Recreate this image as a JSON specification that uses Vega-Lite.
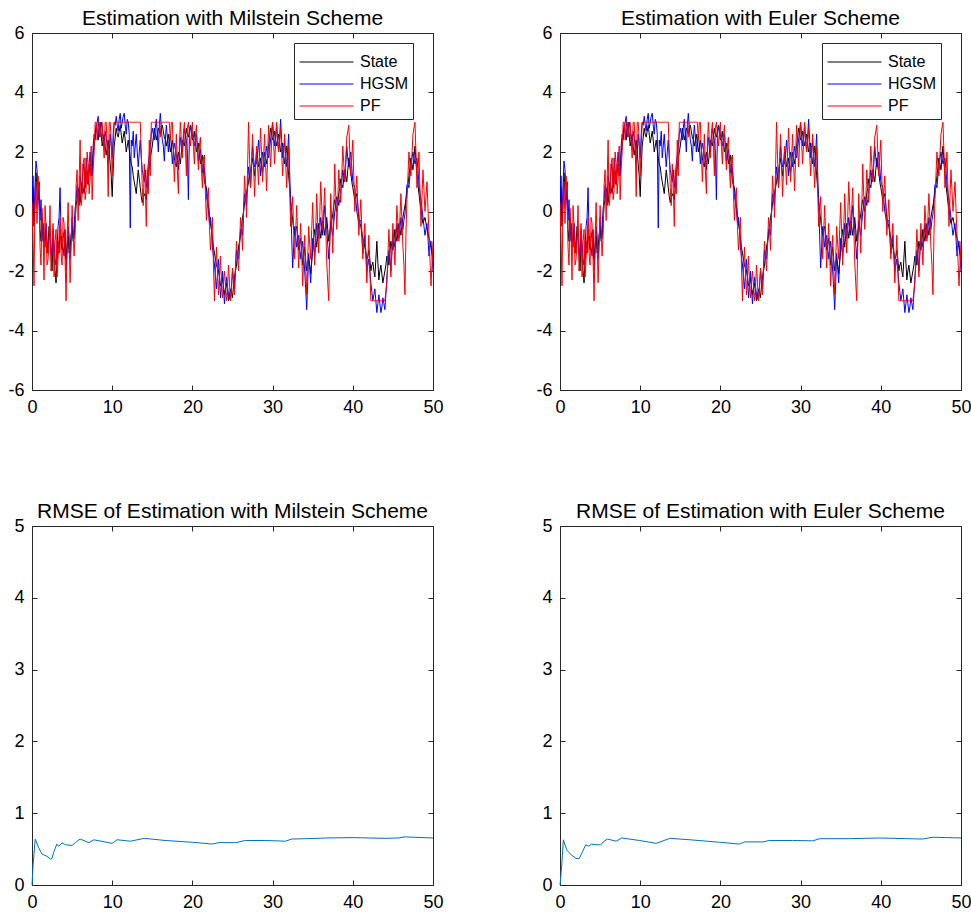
{
"$schema":"https://vega.github.io/schema/vega-lite/v6.json",
"padding":{"left":7,"top":7,"right":0,"bottom":5},
"background":"white",
"datasets":{
"est":[
{"x":0,"State":0.2,"HGSM":0.1,"PF":0.3},{"x":0.25,"State":-0.5,"HGSM":-0.3,"PF":-2.5},{"x":0.5,"State":1.3,"HGSM":1.7,"PF":1.0},{"x":0.75,"State":0.4,"HGSM":0.8,"PF":1.2},
{"x":1,"State":-0.6,"HGSM":-0.3,"PF":-1.2},{"x":1.25,"State":-0.2,"HGSM":-1.0,"PF":0.1},{"x":1.5,"State":-1.2,"HGSM":-0.8,"PF":-2.3},{"x":1.75,"State":-0.6,"HGSM":-0.4,"PF":-0.5},
{"x":2,"State":-1.1,"HGSM":-1.4,"PF":-1.6},{"x":2.25,"State":-0.8,"HGSM":-0.6,"PF":0.2},{"x":2.5,"State":-2.0,"HGSM":-1.5,"PF":-1.2},{"x":2.75,"State":-1.4,"HGSM":-1.0,"PF":-2.2},
{"x":3,"State":-2.4,"HGSM":-1.8,"PF":-0.6},{"x":3.25,"State":-1.0,"HGSM":-0.5,"PF":-1.6},{"x":3.5,"State":-0.6,"HGSM":0.8,"PF":-0.2},{"x":3.75,"State":-1.3,"HGSM":-1.0,"PF":-1.8},
{"x":4,"State":-0.7,"HGSM":-1.5,"PF":-0.4},{"x":4.25,"State":-1.6,"HGSM":-2.0,"PF":-3.0},{"x":4.5,"State":-0.8,"HGSM":-0.5,"PF":0.3},{"x":4.75,"State":-1.2,"HGSM":-1.6,"PF":-2.4},
{"x":5,"State":-0.5,"HGSM":-0.2,"PF":0.2},{"x":5.25,"State":-0.9,"HGSM":-0.6,"PF":-1.5},{"x":5.5,"State":0.2,"HGSM":0.4,"PF":0.9},{"x":5.75,"State":0.8,"HGSM":0.5,"PF":-0.3},
{"x":6,"State":0.3,"HGSM":1.2,"PF":2.4},{"x":6.25,"State":1.0,"HGSM":0.6,"PF":0.5},{"x":6.5,"State":0.6,"HGSM":1.4,"PF":1.8},{"x":6.75,"State":1.3,"HGSM":1.8,"PF":0.7},
{"x":7,"State":0.9,"HGSM":1.0,"PF":1.6},{"x":7.25,"State":1.6,"HGSM":2.0,"PF":1.1},{"x":7.5,"State":1.4,"HGSM":1.2,"PF":0.4},{"x":7.75,"State":2.3,"HGSM":2.6,"PF":2.0},
{"x":8,"State":2.9,"HGSM":2.8,"PF":3.0},{"x":8.25,"State":2.4,"HGSM":3.2,"PF":3.0},{"x":8.5,"State":3.0,"HGSM":2.6,"PF":2.5},{"x":8.75,"State":2.2,"HGSM":2.8,"PF":3.0},
{"x":9,"State":2.6,"HGSM":2.2,"PF":1.8},{"x":9.25,"State":1.9,"HGSM":2.5,"PF":3.0},{"x":9.5,"State":2.4,"HGSM":1.6,"PF":0.5},{"x":9.75,"State":1.6,"HGSM":2.6,"PF":3.0},
{"x":10,"State":0.5,"HGSM":1.8,"PF":1.2},{"x":10.25,"State":2.2,"HGSM":3.0,"PF":3.0},{"x":10.5,"State":2.8,"HGSM":3.2,"PF":3.0},{"x":10.75,"State":2.5,"HGSM":2.7,"PF":3.0},
{"x":11,"State":2.9,"HGSM":3.3,"PF":3.0},{"x":11.25,"State":2.3,"HGSM":3.0,"PF":3.0},{"x":11.5,"State":2.7,"HGSM":3.3,"PF":3.0},{"x":11.75,"State":2.0,"HGSM":2.6,"PF":3.0},
{"x":12,"State":2.4,"HGSM":3.0,"PF":3.0},{"x":12.25,"State":1.8,"HGSM":-0.55,"PF":3.0},{"x":12.5,"State":1.5,"HGSM":2.2,"PF":3.0},{"x":12.75,"State":1.0,"HGSM":1.8,"PF":3.0},
{"x":13,"State":0.6,"HGSM":2.6,"PF":3.0},{"x":13.25,"State":1.4,"HGSM":1.5,"PF":3.0},{"x":13.5,"State":0.8,"HGSM":2.4,"PF":3.0},{"x":13.75,"State":0.3,"HGSM":1.4,"PF":0.8},
{"x":14,"State":0.6,"HGSM":1.0,"PF":1.6},{"x":14.25,"State":0.4,"HGSM":0.8,"PF":-0.5},{"x":14.5,"State":1.2,"HGSM":1.6,"PF":0.6},{"x":14.75,"State":1.8,"HGSM":2.2,"PF":1.2},
{"x":15,"State":2.2,"HGSM":2.8,"PF":3.0},{"x":15.25,"State":2.8,"HGSM":2.4,"PF":3.0},{"x":15.5,"State":2.4,"HGSM":3.1,"PF":3.0},{"x":15.75,"State":2.8,"HGSM":2.0,"PF":3.0},
{"x":16,"State":2.6,"HGSM":3.3,"PF":2.5},{"x":16.25,"State":2.9,"HGSM":2.4,"PF":3.0},{"x":16.5,"State":2.5,"HGSM":1.7,"PF":3.0},{"x":16.75,"State":2.2,"HGSM":2.9,"PF":3.0},
{"x":17,"State":2.6,"HGSM":2.0,"PF":3.0},{"x":17.25,"State":2.0,"HGSM":2.6,"PF":2.4},{"x":17.5,"State":2.4,"HGSM":1.6,"PF":3.0},{"x":17.75,"State":1.8,"HGSM":2.3,"PF":1.0},
{"x":18,"State":1.5,"HGSM":1.9,"PF":2.6},{"x":18.25,"State":2.0,"HGSM":1.4,"PF":0.6},{"x":18.5,"State":1.6,"HGSM":2.5,"PF":3.0},{"x":18.75,"State":2.4,"HGSM":2.0,"PF":1.8},
{"x":19,"State":2.2,"HGSM":2.8,"PF":3.0},{"x":19.25,"State":2.8,"HGSM":2.4,"PF":1.2},{"x":19.5,"State":2.5,"HGSM":0.4,"PF":3.0},{"x":19.75,"State":2.9,"HGSM":2.9,"PF":2.2},
{"x":20,"State":2.4,"HGSM":2.6,"PF":3.0},{"x":20.25,"State":2.7,"HGSM":2.2,"PF":1.6},{"x":20.5,"State":2.0,"HGSM":2.6,"PF":2.9},{"x":20.75,"State":2.3,"HGSM":1.7,"PF":1.4},
{"x":21,"State":1.6,"HGSM":2.1,"PF":2.5},{"x":21.25,"State":1.9,"HGSM":1.3,"PF":0.8},{"x":21.5,"State":1.0,"HGSM":1.4,"PF":1.9},{"x":21.75,"State":0.8,"HGSM":0.5,"PF":-0.3},
{"x":22,"State":0.2,"HGSM":0.0,"PF":0.8},{"x":22.25,"State":-0.4,"HGSM":-0.2,"PF":-1.3},{"x":22.5,"State":-0.9,"HGSM":-1.2,"PF":-0.2},{"x":22.75,"State":-1.4,"HGSM":-1.8,"PF":-3.0},
{"x":23,"State":-1.8,"HGSM":-2.6,"PF":-1.2},{"x":23.25,"State":-2.0,"HGSM":-1.6,"PF":-2.8},{"x":23.5,"State":-2.5,"HGSM":-2.9,"PF":-1.5},{"x":23.75,"State":-2.2,"HGSM":-2.0,"PF":-2.9},
{"x":24,"State":-2.8,"HGSM":-3.1,"PF":-2.0},{"x":24.25,"State":-2.4,"HGSM":-2.2,"PF":-3.0},{"x":24.5,"State":-3.0,"HGSM":-2.8,"PF":-1.8},{"x":24.75,"State":-2.6,"HGSM":-3.0,"PF":-3.0},
{"x":25,"State":-2.9,"HGSM":-2.0,"PF":-1.9},{"x":25.25,"State":-2.2,"HGSM":-2.6,"PF":-2.8},{"x":25.5,"State":-1.8,"HGSM":-1.3,"PF":-1.0},{"x":25.75,"State":-1.2,"HGSM":-1.6,"PF":-2.0},
{"x":26,"State":-0.8,"HGSM":-0.6,"PF":-0.2},{"x":26.25,"State":-0.2,"HGSM":-0.8,"PF":-1.3},{"x":26.5,"State":0.3,"HGSM":0.6,"PF":1.2},{"x":26.75,"State":0.6,"HGSM":0.2,"PF":-0.2},
{"x":27,"State":1.0,"HGSM":1.5,"PF":3.0},{"x":27.25,"State":1.4,"HGSM":0.8,"PF":0.8},{"x":27.5,"State":1.8,"HGSM":2.2,"PF":2.6},{"x":27.75,"State":1.2,"HGSM":1.5,"PF":0.5},
{"x":28,"State":2.0,"HGSM":1.6,"PF":2.2},{"x":28.25,"State":1.5,"HGSM":2.4,"PF":0.9},{"x":28.5,"State":1.8,"HGSM":1.2,"PF":2.8},{"x":28.75,"State":1.3,"HGSM":2.0,"PF":1.0},
{"x":29,"State":2.0,"HGSM":1.5,"PF":2.6},{"x":29.25,"State":1.6,"HGSM":2.2,"PF":0.7},{"x":29.5,"State":2.2,"HGSM":1.8,"PF":2.9},{"x":29.75,"State":2.8,"HGSM":2.4,"PF":1.5},
{"x":30,"State":2.4,"HGSM":3.0,"PF":3.0},{"x":30.25,"State":2.7,"HGSM":2.2,"PF":1.6},{"x":30.5,"State":2.2,"HGSM":2.9,"PF":3.0},{"x":30.75,"State":2.6,"HGSM":2.0,"PF":2.0},
{"x":31,"State":2.0,"HGSM":3.1,"PF":2.8},{"x":31.25,"State":2.3,"HGSM":1.8,"PF":1.2},{"x":31.5,"State":1.6,"HGSM":2.4,"PF":2.6},{"x":31.75,"State":2.2,"HGSM":1.5,"PF":0.8},
{"x":32,"State":1.2,"HGSM":2.6,"PF":2.2},{"x":32.25,"State":0.4,"HGSM":0.2,"PF":-0.5},{"x":32.5,"State":-0.3,"HGSM":-1.9,"PF":0.5},{"x":32.75,"State":-0.8,"HGSM":-0.5,"PF":-1.6},
{"x":33,"State":-0.5,"HGSM":-1.2,"PF":0.2},{"x":33.25,"State":-1.3,"HGSM":-0.8,"PF":-1.9},{"x":33.5,"State":-0.9,"HGSM":-1.6,"PF":-0.4},{"x":33.75,"State":-1.8,"HGSM":-1.0,"PF":-2.5},
{"x":34,"State":-1.2,"HGSM":-2.0,"PF":-0.8},{"x":34.25,"State":-2.0,"HGSM":-3.3,"PF":-2.8},{"x":34.5,"State":-1.6,"HGSM":-1.4,"PF":-0.5},{"x":34.75,"State":-2.1,"HGSM":-2.4,"PF":-1.6},
{"x":35,"State":-1.3,"HGSM":-0.9,"PF":0.3},{"x":35.25,"State":-0.6,"HGSM":-1.5,"PF":-1.8},{"x":35.5,"State":-1.2,"HGSM":-0.4,"PF":0.6},{"x":35.75,"State":-0.4,"HGSM":-0.9,"PF":-1.4},
{"x":36,"State":-0.9,"HGSM":-0.2,"PF":1.0},{"x":36.25,"State":-0.3,"HGSM":-0.8,"PF":-0.6},{"x":36.5,"State":-0.8,"HGSM":0.2,"PF":0.8},{"x":36.75,"State":-0.2,"HGSM":-0.6,"PF":-1.7},
{"x":37,"State":-1.0,"HGSM":-1.6,"PF":-3.0},{"x":37.25,"State":-0.5,"HGSM":-0.3,"PF":0.6},{"x":37.5,"State":-0.1,"HGSM":-0.8,"PF":-1.4},{"x":37.75,"State":0.4,"HGSM":0.0,"PF":1.6},
{"x":38,"State":0.0,"HGSM":0.5,"PF":-0.6},{"x":38.25,"State":0.6,"HGSM":0.2,"PF":1.4},{"x":38.5,"State":1.1,"HGSM":0.7,"PF":0.3},{"x":38.75,"State":0.8,"HGSM":1.4,"PF":2.2},
{"x":39,"State":1.4,"HGSM":1.0,"PF":1.0},{"x":39.25,"State":1.0,"HGSM":2.2,"PF":2.5},{"x":39.5,"State":1.8,"HGSM":1.5,"PF":2.9},{"x":39.75,"State":1.3,"HGSM":2.0,"PF":1.2},
{"x":40,"State":0.8,"HGSM":1.0,"PF":2.4},{"x":40.25,"State":0.4,"HGSM":0.8,"PF":0.0},{"x":40.5,"State":0.6,"HGSM":0.0,"PF":1.2},{"x":40.75,"State":-0.2,"HGSM":-0.4,"PF":-0.8},
{"x":41,"State":-0.5,"HGSM":-0.3,"PF":0.4},{"x":41.25,"State":-0.9,"HGSM":-1.4,"PF":-1.6},{"x":41.5,"State":-1.2,"HGSM":-0.8,"PF":-0.4},{"x":41.75,"State":-1.6,"HGSM":-2.0,"PF":-2.4},
{"x":42,"State":-1.3,"HGSM":-1.6,"PF":-0.8},{"x":42.25,"State":-2.0,"HGSM":-2.4,"PF":-3.0},{"x":42.5,"State":-1.7,"HGSM":-3.0,"PF":-3.0},{"x":42.75,"State":-2.2,"HGSM":-2.6,"PF":-3.0},
{"x":43,"State":-1.0,"HGSM":-3.4,"PF":-3.0},{"x":43.25,"State":-2.3,"HGSM":-2.8,"PF":-3.0},{"x":43.5,"State":-1.8,"HGSM":-3.4,"PF":-3.0},{"x":43.75,"State":-2.4,"HGSM":-2.9,"PF":-3.0},
{"x":44,"State":-2.0,"HGSM":-3.3,"PF":-3.0},{"x":44.25,"State":-1.5,"HGSM":-2.2,"PF":-2.4},{"x":44.5,"State":-1.8,"HGSM":-1.3,"PF":-0.6},{"x":44.75,"State":-1.0,"HGSM":-2.0,"PF":-2.2},
{"x":45,"State":-1.3,"HGSM":-0.8,"PF":-0.4},{"x":45.25,"State":-0.6,"HGSM":-1.2,"PF":-1.8},{"x":45.5,"State":-1.0,"HGSM":-0.4,"PF":0.2},{"x":45.75,"State":-0.4,"HGSM":-0.9,"PF":-1.0},
{"x":46,"State":-0.8,"HGSM":-0.2,"PF":0.6},{"x":46.25,"State":-0.2,"HGSM":-0.6,"PF":-1.2},{"x":46.5,"State":0.2,"HGSM":-0.1,"PF":-2.8},{"x":46.75,"State":0.6,"HGSM":0.9,"PF":0.4},
{"x":47,"State":1.2,"HGSM":0.8,"PF":2.0},{"x":47.25,"State":1.8,"HGSM":1.5,"PF":1.2},{"x":47.5,"State":1.4,"HGSM":2.0,"PF":2.6},{"x":47.75,"State":2.2,"HGSM":1.6,"PF":3.0},
{"x":48,"State":1.2,"HGSM":1.8,"PF":0.8},{"x":48.25,"State":0.6,"HGSM":0.9,"PF":2.0},{"x":48.5,"State":0.0,"HGSM":0.4,"PF":-0.5},{"x":48.75,"State":-0.4,"HGSM":-0.2,"PF":1.4},
{"x":49,"State":-0.2,"HGSM":-0.8,"PF":0.0},{"x":49.25,"State":-0.6,"HGSM":-0.4,"PF":1.0},{"x":49.5,"State":-0.9,"HGSM":-1.5,"PF":-0.8},{"x":49.75,"State":-1.2,"HGSM":-1.0,"PF":-2.5},
{"x":50,"State":-1.6,"HGSM":-2.0,"PF":-1.0},
{"x":0.125,"State":0.8,"HGSM":1.2,"PF":-0.8},{"x":0.375,"State":0.2,"HGSM":0.9,"PF":0.4},{"x":0.625,"State":0.6,"HGSM":1.4,"PF":-0.4},{"x":0.875,"State":1.0,"HGSM":0.2,"PF":0.6},
{"x":1.125,"State":-1.0,"HGSM":0.4,"PF":-1.8},{"x":1.375,"State":-0.5,"HGSM":-0.4,"PF":-0.6},{"x":1.625,"State":-0.9,"HGSM":-1.2,"PF":0.2},{"x":1.875,"State":-1.4,"HGSM":-1.0,"PF":-1.8},
{"x":2.125,"State":-0.5,"HGSM":-0.9,"PF":-1.0},{"x":2.375,"State":-1.5,"HGSM":-1.2,"PF":-2.0},{"x":2.625,"State":-1.0,"HGSM":-0.6,"PF":-0.4},{"x":2.875,"State":-2.0,"HGSM":-1.6,"PF":-1.0},
{"x":3.125,"State":-1.6,"HGSM":-1.2,"PF":-2.2},{"x":3.375,"State":-1.4,"HGSM":-0.2,"PF":-0.8},{"x":3.625,"State":-1.0,"HGSM":-0.8,"PF":-1.4},{"x":3.875,"State":-0.9,"HGSM":-1.2,"PF":-0.2},
{"x":4.125,"State":-1.2,"HGSM":-0.6,"PF":-1.6},{"x":4.375,"State":-1.1,"HGSM":-1.4,"PF":-1.0},{"x":4.625,"State":-1.4,"HGSM":-0.9,"PF":-0.9},{"x":4.875,"State":-0.8,"HGSM":-1.0,"PF":-1.2},
{"x":5.125,"State":-1.0,"HGSM":-0.9,"PF":-0.6},{"x":5.375,"State":-0.3,"HGSM":0.1,"PF":-0.8},{"x":5.625,"State":0.4,"HGSM":0.9,"PF":1.4},{"x":5.875,"State":0.5,"HGSM":0.2,"PF":1.0},
{"x":6.125,"State":0.7,"HGSM":0.9,"PF":0.2},{"x":6.375,"State":0.8,"HGSM":1.6,"PF":1.6},{"x":6.625,"State":1.0,"HGSM":0.8,"PF":0.4},{"x":6.875,"State":1.0,"HGSM":1.4,"PF":2.0},
{"x":7.125,"State":1.3,"HGSM":1.6,"PF":0.6},{"x":7.375,"State":1.2,"HGSM":1.5,"PF":2.2},{"x":7.625,"State":1.9,"HGSM":2.2,"PF":1.4},{"x":7.875,"State":2.6,"HGSM":2.4,"PF":3.0},
{"x":8.125,"State":2.7,"HGSM":3.0,"PF":2.4},{"x":8.375,"State":2.7,"HGSM":2.5,"PF":3.0},{"x":8.625,"State":2.6,"HGSM":3.0,"PF":3.0},{"x":8.875,"State":2.4,"HGSM":2.4,"PF":2.4},
{"x":9.125,"State":2.2,"HGSM":2.7,"PF":3.0},{"x":9.375,"State":2.1,"HGSM":2.2,"PF":2.2},{"x":9.625,"State":2.0,"HGSM":2.0,"PF":3.0},{"x":9.875,"State":1.2,"HGSM":2.2,"PF":2.4},
{"x":10.125,"State":1.4,"HGSM":2.6,"PF":2.2},{"x":10.375,"State":2.5,"HGSM":2.9,"PF":3.0},{"x":10.625,"State":2.6,"HGSM":2.9,"PF":3.0},{"x":10.875,"State":2.7,"HGSM":3.1,"PF":3.0},
{"x":11.125,"State":2.6,"HGSM":2.8,"PF":3.0},{"x":11.375,"State":2.5,"HGSM":3.2,"PF":3.0},{"x":11.625,"State":2.4,"HGSM":2.9,"PF":3.0},{"x":11.875,"State":2.2,"HGSM":3.1,"PF":3.0},
{"x":12.125,"State":2.1,"HGSM":2.6,"PF":3.0},{"x":12.375,"State":1.6,"HGSM":2.4,"PF":3.0},{"x":12.625,"State":1.2,"HGSM":2.7,"PF":3.0},{"x":12.875,"State":0.8,"HGSM":2.2,"PF":3.0},
{"x":13.125,"State":1.0,"HGSM":2.0,"PF":3.0},{"x":13.375,"State":1.1,"HGSM":2.0,"PF":3.0},{"x":13.625,"State":0.5,"HGSM":1.8,"PF":2.0},{"x":13.875,"State":0.5,"HGSM":1.2,"PF":0.2},
{"x":14.125,"State":0.5,"HGSM":1.4,"PF":0.8},{"x":14.375,"State":0.8,"HGSM":1.2,"PF":1.4},{"x":14.625,"State":1.5,"HGSM":1.9,"PF":2.4},{"x":14.875,"State":2.0,"HGSM":2.6,"PF":3.0},
{"x":15.125,"State":2.5,"HGSM":2.6,"PF":3.0},{"x":15.375,"State":2.6,"HGSM":2.8,"PF":3.0},{"x":15.625,"State":2.6,"HGSM":2.6,"PF":3.0},{"x":15.875,"State":2.7,"HGSM":2.9,"PF":3.0},
{"x":16.125,"State":2.8,"HGSM":2.8,"PF":3.0},{"x":16.375,"State":2.7,"HGSM":2.2,"PF":3.0},{"x":16.625,"State":2.4,"HGSM":2.4,"PF":3.0},{"x":16.875,"State":2.4,"HGSM":2.5,"PF":3.0},
{"x":17.125,"State":2.3,"HGSM":2.4,"PF":3.0},{"x":17.375,"State":2.2,"HGSM":2.2,"PF":3.0},{"x":17.625,"State":2.1,"HGSM":2.0,"PF":2.0},{"x":17.875,"State":1.6,"HGSM":2.1,"PF":1.8},
{"x":18.125,"State":1.8,"HGSM":1.7,"PF":1.4},{"x":18.375,"State":1.8,"HGSM":2.0,"PF":2.2},{"x":18.625,"State":2.0,"HGSM":2.2,"PF":2.4},{"x":18.875,"State":2.3,"HGSM":2.5,"PF":2.6},
{"x":19.125,"State":2.5,"HGSM":2.6,"PF":2.2},{"x":19.375,"State":2.6,"HGSM":2.0,"PF":2.8},{"x":19.625,"State":2.7,"HGSM":2.6,"PF":2.6},{"x":19.875,"State":2.6,"HGSM":2.8,"PF":2.6},
{"x":20.125,"State":2.5,"HGSM":2.4,"PF":2.2},{"x":20.375,"State":2.3,"HGSM":2.4,"PF":2.5},{"x":20.625,"State":2.2,"HGSM":2.2,"PF":2.0},{"x":20.875,"State":1.9,"HGSM":1.9,"PF":2.2},
{"x":21.125,"State":1.8,"HGSM":1.7,"PF":1.4},{"x":21.375,"State":1.4,"HGSM":1.6,"PF":1.8},{"x":21.625,"State":0.9,"HGSM":1.0,"PF":0.6},{"x":21.875,"State":0.5,"HGSM":0.3,"PF":0.4},
{"x":22.125,"State":-0.1,"HGSM":-0.4,"PF":-0.5},{"x":22.375,"State":-0.6,"HGSM":-0.6,"PF":-0.8},{"x":22.625,"State":-1.2,"HGSM":-1.5,"PF":-1.8},{"x":22.875,"State":-1.6,"HGSM":-2.2,"PF":-2.0},
{"x":23.125,"State":-1.9,"HGSM":-2.1,"PF":-2.0},{"x":23.375,"State":-2.2,"HGSM":-2.2,"PF":-2.2},{"x":23.625,"State":-2.4,"HGSM":-2.5,"PF":-2.4},{"x":23.875,"State":-2.5,"HGSM":-2.6,"PF":-2.4},
{"x":24.125,"State":-2.6,"HGSM":-2.6,"PF":-2.5},{"x":24.375,"State":-2.7,"HGSM":-2.5,"PF":-2.6},{"x":24.625,"State":-2.8,"HGSM":-2.9,"PF":-2.4},{"x":24.875,"State":-2.7,"HGSM":-2.5,"PF":-2.6},
{"x":25.125,"State":-2.5,"HGSM":-2.3,"PF":-2.3},{"x":25.375,"State":-2.0,"HGSM":-1.9,"PF":-1.8},{"x":25.625,"State":-1.5,"HGSM":-1.5,"PF":-1.5},{"x":25.875,"State":-1.0,"HGSM":-1.1,"PF":-1.2},
{"x":26.125,"State":-0.5,"HGSM":-0.7,"PF":-0.6},{"x":26.375,"State":0.0,"HGSM":-0.1,"PF":0.0},{"x":26.625,"State":0.4,"HGSM":0.4,"PF":0.6},{"x":26.875,"State":0.8,"HGSM":0.9,"PF":1.4},
{"x":27.125,"State":1.2,"HGSM":1.2,"PF":1.8},{"x":27.375,"State":1.6,"HGSM":1.5,"PF":1.7},{"x":27.625,"State":1.5,"HGSM":1.8,"PF":1.6},{"x":27.875,"State":1.6,"HGSM":1.6,"PF":1.4},
{"x":28.125,"State":1.8,"HGSM":2.0,"PF":1.5},{"x":28.375,"State":1.6,"HGSM":1.8,"PF":1.9},{"x":28.625,"State":1.5,"HGSM":1.6,"PF":1.9},{"x":28.875,"State":1.6,"HGSM":1.8,"PF":1.8},
{"x":29.125,"State":1.8,"HGSM":1.8,"PF":1.6},{"x":29.375,"State":1.9,"HGSM":2.0,"PF":1.8},{"x":29.625,"State":2.5,"HGSM":2.1,"PF":2.2},{"x":29.875,"State":2.6,"HGSM":2.7,"PF":2.3},
{"x":30.125,"State":2.5,"HGSM":2.6,"PF":2.3},{"x":30.375,"State":2.4,"HGSM":2.5,"PF":2.3},{"x":30.625,"State":2.4,"HGSM":2.4,"PF":2.5},{"x":30.875,"State":2.3,"HGSM":2.5,"PF":2.4},
{"x":31.125,"State":2.1,"HGSM":2.4,"PF":2.0},{"x":31.375,"State":1.9,"HGSM":2.1,"PF":1.9},{"x":31.625,"State":1.9,"HGSM":1.9,"PF":1.7},{"x":31.875,"State":1.7,"HGSM":2.0,"PF":1.5},
{"x":32.125,"State":0.8,"HGSM":1.4,"PF":0.8},{"x":32.375,"State":0.0,"HGSM":-0.8,"PF":0.0},{"x":32.625,"State":-0.6,"HGSM":-1.2,"PF":-0.6},{"x":32.875,"State":-0.6,"HGSM":-0.8,"PF":-0.7},
{"x":33.125,"State":-0.9,"HGSM":-1.0,"PF":-0.8},{"x":33.375,"State":-1.1,"HGSM":-1.2,"PF":-1.2},{"x":33.625,"State":-1.3,"HGSM":-1.3,"PF":-1.4},{"x":33.875,"State":-1.5,"HGSM":-1.5,"PF":-1.6},
{"x":34.125,"State":-1.6,"HGSM":-2.6,"PF":-1.8},{"x":34.375,"State":-1.8,"HGSM":-2.4,"PF":-1.6},{"x":34.625,"State":-1.8,"HGSM":-1.9,"PF":-1.1},{"x":34.875,"State":-1.7,"HGSM":-1.6,"PF":-0.6},
{"x":35.125,"State":-0.9,"HGSM":-1.2,"PF":-0.8},{"x":35.375,"State":-0.9,"HGSM":-1.0,"PF":-0.6},{"x":35.625,"State":-0.8,"HGSM":-0.6,"PF":-0.4},{"x":35.875,"State":-0.6,"HGSM":-0.6,"PF":-0.2},
{"x":36.125,"State":-0.6,"HGSM":-0.5,"PF":0.2},{"x":36.375,"State":-0.5,"HGSM":-0.3,"PF":0.1},{"x":36.625,"State":-0.5,"HGSM":-0.2,"PF":-0.4},{"x":36.875,"State":-0.6,"HGSM":-1.1,"PF":-2.4},
{"x":37.125,"State":-0.7,"HGSM":-1.0,"PF":-1.2},{"x":37.375,"State":-0.3,"HGSM":-0.6,"PF":-0.4},{"x":37.625,"State":0.2,"HGSM":-0.4,"PF":0.1},{"x":37.875,"State":0.2,"HGSM":0.2,"PF":0.5},
{"x":38.125,"State":0.3,"HGSM":0.4,"PF":0.4},{"x":38.375,"State":0.8,"HGSM":0.4,"PF":0.8},{"x":38.625,"State":0.9,"HGSM":1.0,"PF":1.2},{"x":38.875,"State":1.1,"HGSM":1.2,"PF":1.6},
{"x":39.125,"State":1.2,"HGSM":1.6,"PF":1.8},{"x":39.375,"State":1.4,"HGSM":1.8,"PF":2.7},{"x":39.625,"State":1.5,"HGSM":1.8,"PF":2.0},{"x":39.875,"State":1.0,"HGSM":1.5,"PF":1.8},
{"x":40.125,"State":0.6,"HGSM":0.9,"PF":1.2},{"x":40.375,"State":0.5,"HGSM":0.4,"PF":0.6},{"x":40.625,"State":0.2,"HGSM":-0.2,"PF":0.2},{"x":40.875,"State":-0.4,"HGSM":-0.3,"PF":-0.2},
{"x":41.125,"State":-0.7,"HGSM":-0.8,"PF":-0.6},{"x":41.375,"State":-1.0,"HGSM":-1.1,"PF":-1.0},{"x":41.625,"State":-1.4,"HGSM":-1.4,"PF":-1.4},{"x":41.875,"State":-1.5,"HGSM":-1.8,"PF":-1.6},
{"x":42.125,"State":-1.6,"HGSM":-2.0,"PF":-1.9},{"x":42.375,"State":-1.8,"HGSM":-2.7,"PF":-3.0},{"x":42.625,"State":-2.0,"HGSM":-2.8,"PF":-3.0},{"x":42.875,"State":-1.6,"HGSM":-3.0,"PF":-3.0},
{"x":43.125,"State":-1.7,"HGSM":-3.1,"PF":-3.0},{"x":43.375,"State":-2.0,"HGSM":-3.1,"PF":-3.0},{"x":43.625,"State":-2.1,"HGSM":-3.2,"PF":-3.0},{"x":43.875,"State":-2.2,"HGSM":-3.1,"PF":-3.0},
{"x":44.125,"State":-1.8,"HGSM":-2.8,"PF":-2.7},{"x":44.375,"State":-1.6,"HGSM":-1.8,"PF":-1.5},{"x":44.625,"State":-1.4,"HGSM":-1.6,"PF":-1.4},{"x":44.875,"State":-1.2,"HGSM":-1.4,"PF":-1.3},
{"x":45.125,"State":-1.0,"HGSM":-1.0,"PF":-1.1},{"x":45.375,"State":-0.8,"HGSM":-0.8,"PF":-0.8},{"x":45.625,"State":-0.7,"HGSM":-0.7,"PF":-0.4},{"x":45.875,"State":-0.6,"HGSM":-0.6,"PF":-0.2},
{"x":46.125,"State":-0.5,"HGSM":-0.4,"PF":-0.3},{"x":46.375,"State":0.0,"HGSM":-0.3,"PF":-1.8},{"x":46.625,"State":0.4,"HGSM":0.4,"PF":-0.8},{"x":46.875,"State":0.9,"HGSM":0.9,"PF":1.2},
{"x":47.125,"State":1.5,"HGSM":1.2,"PF":1.6},{"x":47.375,"State":1.6,"HGSM":1.8,"PF":1.9},{"x":47.625,"State":1.8,"HGSM":1.8,"PF":2.8},{"x":47.875,"State":1.7,"HGSM":1.7,"PF":2.0},
{"x":48.125,"State":0.9,"HGSM":1.4,"PF":1.4},{"x":48.375,"State":0.3,"HGSM":0.6,"PF":0.8},{"x":48.625,"State":-0.2,"HGSM":0.1,"PF":0.5},{"x":48.875,"State":-0.3,"HGSM":-0.5,"PF":0.7},
{"x":49.125,"State":-0.4,"HGSM":-0.6,"PF":0.5},{"x":49.375,"State":-0.7,"HGSM":-0.9,"PF":0.1},{"x":49.625,"State":-1.0,"HGSM":-1.2,"PF":-1.6},{"x":49.875,"State":-1.4,"HGSM":-1.5,"PF":-1.8}
],
"rmseM":[
{"x":0,"r":0.0},{"x":0.13,"r":0.27},{"x":0.4,"r":0.64},{"x":0.83,"r":0.52},{"x":1.25,"r":0.43},{"x":1.87,"r":0.4},{"x":2.3,"r":0.36},{"x":2.5,"r":0.37},{"x":2.7,"r":0.455},{"x":3.1,"r":0.57},{"x":3.3,"r":0.54},{"x":3.75,"r":0.585},{"x":4.2,"r":0.56},{"x":5.0,"r":0.55},{"x":5.4,"r":0.59},{"x":6.0,"r":0.64},{"x":7.1,"r":0.59},{"x":7.7,"r":0.63},{"x":10.0,"r":0.58},{"x":10.6,"r":0.63},{"x":12.3,"r":0.61},{"x":14.0,"r":0.65},{"x":16.6,"r":0.62},{"x":20.0,"r":0.595},{"x":22.5,"r":0.57},{"x":23.3,"r":0.59},{"x":25.4,"r":0.59},{"x":26.6,"r":0.62},{"x":29.1,"r":0.62},{"x":31.6,"r":0.61},{"x":32.4,"r":0.64},{"x":35.7,"r":0.65},{"x":36.6,"r":0.655},{"x":39.9,"r":0.66},{"x":44.1,"r":0.65},{"x":45.7,"r":0.655},{"x":46.5,"r":0.67},{"x":50,"r":0.655}
],
"rmseE":[
{"x":0,"r":0.0},{"x":0.2,"r":0.25},{"x":0.42,"r":0.63},{"x":0.83,"r":0.49},{"x":1.4,"r":0.42},{"x":2.0,"r":0.37},{"x":2.4,"r":0.37},{"x":2.8,"r":0.46},{"x":3.2,"r":0.56},{"x":3.6,"r":0.54},{"x":3.9,"r":0.57},{"x":4.5,"r":0.56},{"x":5.1,"r":0.56},{"x":5.4,"r":0.6},{"x":5.9,"r":0.64},{"x":7.0,"r":0.61},{"x":7.7,"r":0.655},{"x":9.9,"r":0.62},{"x":12.0,"r":0.58},{"x":13.7,"r":0.65},{"x":16.2,"r":0.63},{"x":19.9,"r":0.595},{"x":22.4,"r":0.57},{"x":23.0,"r":0.6},{"x":25.3,"r":0.6},{"x":26.1,"r":0.62},{"x":29.0,"r":0.62},{"x":31.5,"r":0.615},{"x":32.4,"r":0.645},{"x":36.1,"r":0.645},{"x":39.8,"r":0.655},{"x":45.2,"r":0.64},{"x":46.5,"r":0.665},{"x":50,"r":0.655}
]
},
"columns":2,
"bounds":"flush",
"spacing":{"row":136,"column":127},
"resolve":{"scale":{"x":"independent","y":"independent","color":"independent"},"legend":{"color":"independent"}},
"concat":[
{
"width":401,"height":357,
"title":"Estimation with Milstein Scheme",
"data":{"name":"est"},
"transform":[{"fold":["State","HGSM","PF"],"as":["series","v"]}],
"resolve":{"axis":{"x":"independent","y":"independent"}},
"layer":[
{"transform":[{"filter":"datum.series==='State'"}],"mark":{"type":"line","strokeWidth":1,"clip":true},
 "encoding":{"x":{"field":"x","type":"quantitative","scale":{"domain":[0,50]},"axis":{"orient":"bottom","values":[0,10,20,30,40,50]}},
 "y":{"field":"v","type":"quantitative","scale":{"domain":[-6,6]},"axis":{"orient":"left","values":[-6,-4,-2,0,2,4,6]}},
 "color":{"field":"series","type":"nominal","scale":{"domain":["State","HGSM","PF"],"range":["#000000","#0000ff","#ff0000"]},
  "legend":{"orient":"none","legendX":262,"legendY":10,"title":null,"strokeColor":"#262626","fillColor":"white","padding":5,"labelFontSize":16,"labelFont":"Liberation Sans","labelColor":"#000000","symbolType":"M-1,0L3,0","symbolSize":729,"symbolStrokeWidth":1,"rowPadding":-2,"labelOffset":33}}}},
{"transform":[{"filter":"datum.series==='HGSM'"}],"mark":{"type":"line","strokeWidth":1,"clip":true},
 "encoding":{"x":{"field":"x","type":"quantitative","axis":null},"y":{"field":"v","type":"quantitative","axis":null},"color":{"field":"series","type":"nominal"}}},
{"transform":[{"filter":"datum.series==='PF'"}],"mark":{"type":"line","strokeWidth":1,"clip":true},
 "encoding":{"x":{"field":"x","type":"quantitative","axis":{"orient":"top","labels":false,"values":[0,10,20,30,40,50]}},"y":{"field":"v","type":"quantitative","axis":{"orient":"right","labels":false,"values":[-6,-4,-2,0,2,4,6]}},"color":{"field":"series","type":"nominal"}}}
]
},
{
"width":401,"height":357,
"title":"Estimation with Euler Scheme",
"data":{"name":"est"},
"transform":[{"fold":["State","HGSM","PF"],"as":["series","v"]}],
"resolve":{"axis":{"x":"independent","y":"independent"}},
"layer":[
{"transform":[{"filter":"datum.series==='State'"}],"mark":{"type":"line","strokeWidth":1,"clip":true},
 "encoding":{"x":{"field":"x","type":"quantitative","scale":{"domain":[0,50]},"axis":{"orient":"bottom","values":[0,10,20,30,40,50]}},
 "y":{"field":"v","type":"quantitative","scale":{"domain":[-6,6]},"axis":{"orient":"left","values":[-6,-4,-2,0,2,4,6]}},
 "color":{"field":"series","type":"nominal","scale":{"domain":["State","HGSM","PF"],"range":["#000000","#0000ff","#ff0000"]},
  "legend":{"orient":"none","legendX":262,"legendY":10,"title":null,"strokeColor":"#262626","fillColor":"white","padding":5,"labelFontSize":16,"labelFont":"Liberation Sans","labelColor":"#000000","symbolType":"M-1,0L3,0","symbolSize":729,"symbolStrokeWidth":1,"rowPadding":-2,"labelOffset":33}}}},
{"transform":[{"filter":"datum.series==='HGSM'"}],"mark":{"type":"line","strokeWidth":1,"clip":true},
 "encoding":{"x":{"field":"x","type":"quantitative","axis":null},"y":{"field":"v","type":"quantitative","axis":null},"color":{"field":"series","type":"nominal"}}},
{"transform":[{"filter":"datum.series==='PF'"}],"mark":{"type":"line","strokeWidth":1,"clip":true},
 "encoding":{"x":{"field":"x","type":"quantitative","axis":{"orient":"top","labels":false,"values":[0,10,20,30,40,50]}},"y":{"field":"v","type":"quantitative","axis":{"orient":"right","labels":false,"values":[-6,-4,-2,0,2,4,6]}},"color":{"field":"series","type":"nominal"}}}
]
},
{
"width":401,"height":359,
"title":"RMSE of Estimation with Milstein Scheme",
"data":{"name":"rmseM"},
"resolve":{"axis":{"x":"independent","y":"independent"}},
"layer":[
{"mark":{"type":"line","strokeWidth":1,"color":"#0072BD"},
 "encoding":{"x":{"field":"x","type":"quantitative","scale":{"domain":[0,50]},"axis":{"orient":"bottom","values":[0,10,20,30,40,50]}},
 "y":{"field":"r","type":"quantitative","scale":{"domain":[0,5]},"axis":{"orient":"left","values":[0,1,2,3,4,5]}}}},
{"mark":{"type":"line","strokeWidth":0,"opacity":0},
 "encoding":{"x":{"field":"x","type":"quantitative","axis":{"orient":"top","labels":false,"values":[0,10,20,30,40,50]}},"y":{"field":"r","type":"quantitative","axis":{"orient":"right","labels":false,"values":[0,1,2,3,4,5]}}}}
]
},
{
"width":401,"height":359,
"title":"RMSE of Estimation with Euler Scheme",
"data":{"name":"rmseE"},
"resolve":{"axis":{"x":"independent","y":"independent"}},
"layer":[
{"mark":{"type":"line","strokeWidth":1,"color":"#0072BD"},
 "encoding":{"x":{"field":"x","type":"quantitative","scale":{"domain":[0,50]},"axis":{"orient":"bottom","values":[0,10,20,30,40,50]}},
 "y":{"field":"r","type":"quantitative","scale":{"domain":[0,5]},"axis":{"orient":"left","values":[0,1,2,3,4,5]}}}},
{"mark":{"type":"line","strokeWidth":0,"opacity":0},
 "encoding":{"x":{"field":"x","type":"quantitative","axis":{"orient":"top","labels":false,"values":[0,10,20,30,40,50]}},"y":{"field":"r","type":"quantitative","axis":{"orient":"right","labels":false,"values":[0,1,2,3,4,5]}}}}
]
}
],
"config":{
"font":"Liberation Sans",
"view":{"stroke":"#262626","strokeWidth":1},
"axis":{"domain":false,"grid":false,"title":null,"tickColor":"#262626","tickSize":-5,"tickWidth":1,"labelFontSize":18,"labelColor":"#000000","labelFont":"Liberation Sans","labelPadding":13,"labelFlush":false,"labelOverlap":false,"labelExpr":"'' + datum.value"},
"title":{"fontSize":21,"fontWeight":"normal","color":"#000000","offset":-5,"font":"Liberation Sans"}
}
}
